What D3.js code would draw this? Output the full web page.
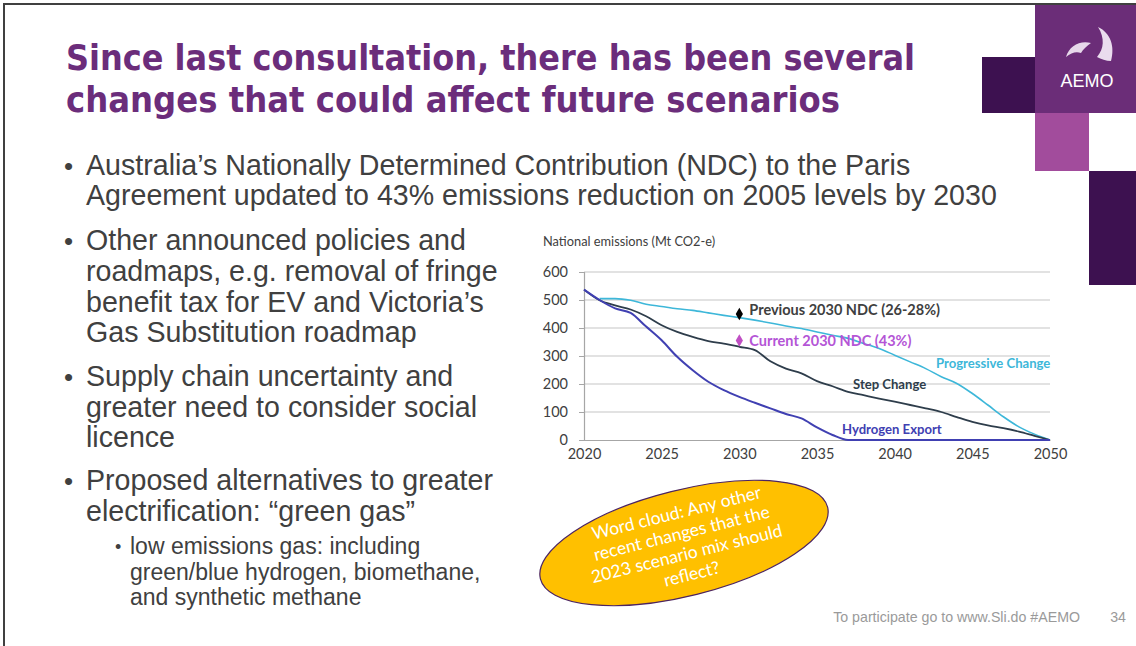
<!DOCTYPE html>
<meta charset="utf-8">
<script src="https://d3js.org/d3.v7.min.js"></script>
<style>
  body { margin: 0; background: #fff; }
  text { font-family: "Liberation Sans", Arial, sans-serif; }
</style>
<div id="slide"></div>
<script>

// chart data
var years = [2020, 2021, 2022, 2023, 2024, 2025, 2026, 2027, 2028, 2029, 2030,
             2031, 2032, 2033, 2034, 2035, 2036, 2037, 2038, 2039, 2040,
             2041, 2042, 2043, 2044, 2045, 2046, 2047, 2048, 2049, 2050];
var progressive = [null, 505, 505, 499, 485, 477, 469, 463, 454, 445, 437,
                   428, 418, 407, 398, 386, 374, 363, 345, 327, 303,
                   279, 255, 226, 202, 166, 125, 83, 47, 21, 0];
var stepChange = [537, 499, 481, 466, 442, 410, 386, 368, 353, 344, 333,
                  321, 281, 255, 238, 210, 192, 172, 160, 148, 137,
                  125, 113, 100, 82, 65, 52, 42, 30, 15, 0];
var hydrogen = [537, 500, 470, 454, 405, 356, 297, 249, 208, 178, 154,
                133, 113, 93, 77, 45, 18, 0, 0, 0, 0,
                0, 0, 0, 0, 0, 0, 0, 0, 0, 0];
var ndcYear = 2030;
var ndcPrevious = 450;
var ndcCurrent = 355;
var yTicks = [0, 100, 200, 300, 400, 500, 600];
var xTicks = [2020, 2025, 2030, 2035, 2040, 2045, 2050];

var W = 1136, H = 646;
var svg = d3.select("#slide").append("svg")
  .attr("width", W).attr("height", H);

svg.append("rect").attr("width", W).attr("height", H).attr("fill", "#fff");

// slide frame
svg.append("path")
  .attr("d", "M4,646 V4 H1136")
  .attr("fill", "none").attr("stroke", "#404040").attr("stroke-width", 2);

// logo blocks
var blocks = [
  [1035, 5, 101, 108, "#6b2d78"],
  [982, 57, 53, 56, "#3d1150"],
  [1035, 113, 54, 58, "#a24c9c"],
  [1089, 171, 47, 114, "#3d1150"]
];
svg.selectAll("rect.blk").data(blocks).enter().append("rect")
  .attr("class", "blk")
  .attr("x", function(d) { return d[0]; })
  .attr("y", function(d) { return d[1]; })
  .attr("width", function(d) { return d[2]; })
  .attr("height", function(d) { return d[3]; })
  .attr("fill", function(d) { return d[4]; });

// swirl of the logo
svg.append("path")
  .attr("d", "M1066,57 C1069,46 1080,40 1091,43 C1087,46 1083,49 1081,53 C1076,51 1071,53 1066,57 Z")
  .attr("fill", "#e6d8ea");
svg.append("path")
  .attr("d", "M1098,27 C1111,33 1115,47 1111,61 C1106,61 1101,59 1097,57 C1104,49 1105,38 1098,27 Z")
  .attr("fill", "#eadcee");
svg.append("text")
  .attr("x", 1087).attr("y", 87)
  .attr("text-anchor", "middle")
  .attr("fill", "#fff")
  .style("font-size", "18px")
  .text("AEMO");

// title
var title = ["Since last consultation, there has been several",
             "changes that could affect future scenarios"];
var titleW = [849, 774];
svg.selectAll("text.title").data(title).enter().append("text")
  .attr("class", "title")
  .attr("x", 66)
  .attr("y", function(d, i) { return 70 + i * 42; })
  .attr("fill", "#6b2d7b")
  .attr("textLength", function(d, i) { return titleW[i]; })
  .attr("lengthAdjust", "spacingAndGlyphs")
  .style("font-family", "'DejaVu Sans', sans-serif")
  .style("font-weight", "bold")
  .style("font-size", "35px")
  .text(function(d) { return d; });

// bullet text
var body = [
  {t: "Australia’s Nationally Determined Contribution (NDC) to the Paris", y: 175, b: true},
  {t: "Agreement updated to 43% emissions reduction on 2005 levels by 2030", y: 205},
  {t: "Other announced policies and", y: 250, b: true},
  {t: "roadmaps, e.g. removal of fringe", y: 281},
  {t: "benefit tax for EV and Victoria’s", y: 312},
  {t: "Gas Substitution roadmap", y: 342},
  {t: "Supply chain uncertainty and", y: 386, b: true},
  {t: "greater need to consider social", y: 417},
  {t: "licence", y: 447},
  {t: "Proposed alternatives to greater", y: 490, b: true},
  {t: "electrification: “green gas”", y: 521}
];
var g = svg.append("g").attr("fill", "#404040");
body.forEach(function(d) {
  g.append("text").attr("x", 86).attr("y", d.y)
    .style("font-size", "28.6px").text(d.t);
  if (d.b) g.append("text").attr("x", 64).attr("y", d.y)
    .style("font-size", "26px").text("•");
});
var sub = ["low emissions gas: including",
           "green/blue hydrogen, biomethane,",
           "and synthetic methane"];
sub.forEach(function(t, i) {
  g.append("text").attr("x", 130).attr("y", 554 + i * 25.5)
    .style("font-size", "23px").text(t);
});
g.append("text").attr("x", 115).attr("y", 553)
  .style("font-size", "18px").text("•");

// footer
svg.append("text").attr("x", 1080).attr("y", 622)
  .attr("text-anchor", "end").attr("fill", "#9a9a9a")
  .style("font-size", "14.2px").text("To participate go to www.Sli.do #AEMO");
svg.append("text").attr("x", 1126).attr("y", 622)
  .attr("text-anchor", "end").attr("fill", "#9a9a9a")
  .style("font-size", "14.2px").text("34");

// ---- emissions chart ----
var cf = "Lato, 'Open Sans', sans-serif";
var x = d3.scaleLinear().domain([2020, 2050]).range([584, 1050]);
var y = d3.scaleLinear().domain([0, 600]).range([440, 272]);

var chart = svg.append("g");

chart.append("text")
  .attr("x", 543).attr("y", 246)
  .attr("fill", "#404040")
  .style("font-family", cf).style("font-size", "12.8px")
  .text("National emissions (Mt CO2-e)");

chart.selectAll("line.grid").data(yTicks.slice(1)).enter().append("line")
  .attr("class", "grid")
  .attr("x1", x(2020)).attr("x2", x(2050))
  .attr("y1", function(d) { return y(d); })
  .attr("y2", function(d) { return y(d); })
  .attr("stroke", "#d9d9d9").attr("stroke-width", 1.5);

var yAxis = chart.append("g")
  .attr("transform", "translate(" + x(2020) + ",0)")
  .call(d3.axisLeft(y).tickValues(yTicks).tickSize(5).tickPadding(11));
var xAxis = chart.append("g")
  .attr("transform", "translate(0," + y(0) + ")")
  .call(d3.axisBottom(x).tickValues(xTicks).tickSize(0).tickPadding(9)
    .tickFormat(d3.format("d")));
[yAxis, xAxis].forEach(function(a) {
  a.select(".domain").attr("stroke", "#a6a6a6").attr("stroke-width", 1.2);
  a.selectAll(".tick line").attr("stroke", "#a6a6a6");
  a.selectAll(".tick text").attr("fill", "#404040")
    .style("font-family", cf).style("font-size", "14.5px");
});

var line = d3.line()
  .defined(function(d) { return d[1] !== null; })
  .x(function(d) { return x(d[0]); })
  .y(function(d) { return y(d[1]); })
  .curve(d3.curveMonotoneX);

var series = [
  {v: progressive, c: "#3db7d9", w: 1.6},
  {v: stepChange, c: "#2e3d4b", w: 1.8},
  {v: hydrogen, c: "#4040b2", w: 2}
];
series.forEach(function(s) {
  chart.append("path")
    .datum(years.map(function(yr, i) { return [yr, s.v[i]]; }))
    .attr("d", line)
    .attr("fill", "none")
    .attr("stroke", s.c)
    .attr("stroke-width", s.w);
});

// NDC markers
var ndc = [
  {v: ndcPrevious, c: "#000", tc: "#404040", t: "Previous 2030 NDC (26-28%)", dy: 1},
  {v: ndcCurrent, c: "#c04fc4", tc: "#b455d6", t: "Current 2030 NDC (43%)", dy: 5}
];
ndc.forEach(function(d) {
  chart.append("path")
    .attr("d", d3.symbol().type(d3.symbolDiamond).size(45))
    .attr("transform", "translate(" + x(ndcYear) + "," + y(d.v) + ")")
    .attr("fill", d.c);
  chart.append("text")
    .attr("x", x(ndcYear) + 10).attr("y", y(d.v) + d.dy)
    .attr("fill", d.tc)
    .style("font-family", cf).style("font-weight", "bold")
    .style("font-size", "14.5px")
    .text(d.t);
});

var labels = [
  {t: "Progressive Change", x: 936, y: 368, c: "#3db7d9"},
  {t: "Step Change", x: 853, y: 389, c: "#2e3d4b"},
  {t: "Hydrogen Export", x: 842, y: 434, c: "#4040b2"}
];
labels.forEach(function(d) {
  chart.append("text")
    .attr("x", d.x).attr("y", d.y)
    .attr("fill", d.c)
    .style("font-family", cf).style("font-weight", "bold")
    .style("font-size", "13.1px")
    .text(d.t);
});

// word cloud bubble
var bubble = svg.append("g").attr("transform", "translate(684,543) rotate(-14)");
bubble.append("ellipse")
  .attr("rx", 148).attr("ry", 53)
  .attr("fill", "#ffc000")
  .attr("stroke", "#4b2462").attr("stroke-width", 1.2);
var cloud = ["Word cloud: Any other", "recent changes that the",
             "2023 scenario mix should", "reflect?"];
bubble.selectAll("text.cloud").data(cloud).enter().append("text")
  .attr("class", "cloud")
  .attr("x", 0)
  .attr("y", function(d, i) { return -25 + i * 21; })
  .attr("text-anchor", "middle")
  .attr("fill", "#fff")
  .style("font-family", cf).style("font-size", "17.5px")
  .text(function(d) { return d; });

</script>
